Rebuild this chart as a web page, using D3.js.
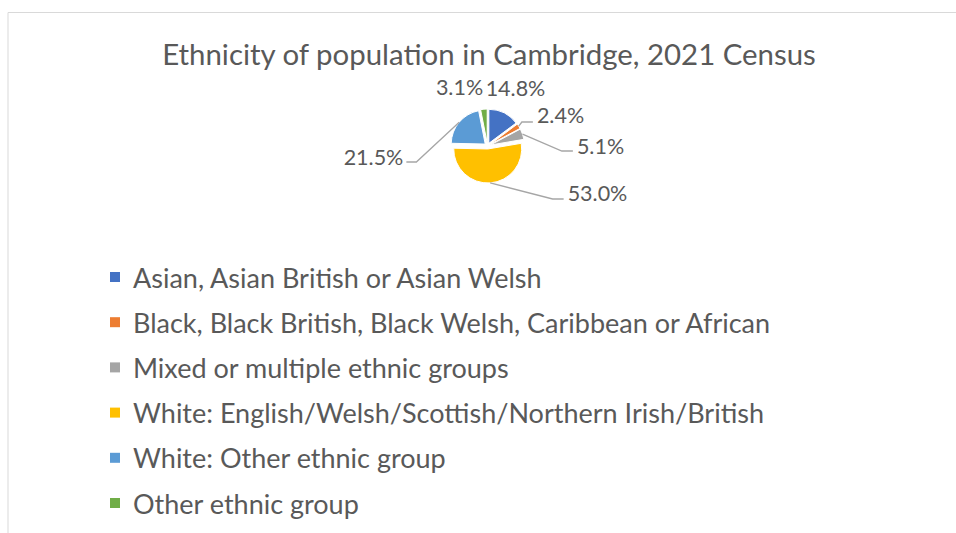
<!DOCTYPE html>
<html>
<head>
<meta charset="utf-8">
<script src="https://cdn.jsdelivr.net/npm/d3@7"></script>
<style>
  body { margin: 0; background: #fff; }
  svg text { font-family: Lato, "Liberation Sans", sans-serif; fill: #595959; }
</style>
</head>
<body>
<svg id="svg"></svg>
<script>
const width = 956;
const height = 533;

// data
const categories = [
  "Asian, Asian British or Asian Welsh",
  "Black, Black British, Black Welsh, Caribbean or African",
  "Mixed or multiple ethnic groups",
  "White: English/Welsh/Scottish/Northern Irish/British",
  "White: Other ethnic group",
  "Other ethnic group"
];
const shares = [14.8, 2.4, 5.1, 53.0, 21.5, 3.1];
const colours = ["#4472C4", "#ED7D31", "#A5A5A5", "#FFC000", "#5B9BD5", "#70AD47"];

// label placement (offset from pie centre), leader line yes/no
const labelPos = [
  {dx: 28, dy: -58, leader: false},
  {dx: 73, dy: -31, leader: true, side: "right", ly: 7},
  {dx: 113, dy: 0, leader: true, side: "right", ly: 5},
  {dx: 110, dy: 47, leader: true, side: "right", ly: 6},
  {dx: -114, dy: 11, leader: true, side: "left", ly: 5},
  {dx: -28, dy: -59, leader: false}
];

let svg = d3.select("#svg").attr("width", width).attr("height", height);

// chart frame
svg.append("path")
  .attr("d", "M8," + height + "V12.5H" + width)
  .attr("fill", "none")
  .attr("stroke", "#d9d9d9")
  .attr("stroke-width", 1);

svg.append("text")
  .attr("x", 489)
  .attr("y", 53)
  .attr("text-anchor", "middle")
  .attr("dominant-baseline", "central")
  .style("font-size", "29.4px")
  .text("Ethnicity of population in Cambridge, 2021 Census");

const cx = 487.5, cy = 146;
const r = 34, explode = 3;

let pie = d3.pie().sort(null).value(d => d);
let arcs = pie(shares);
let arc = d3.arc().innerRadius(0).outerRadius(r);

let g = svg.append("g").attr("transform", `translate(${cx},${cy})`);

const mid = d => (d.startAngle + d.endAngle) / 2;

g.selectAll("path.slice")
  .data(arcs)
  .enter()
  .append("path")
    .attr("class", "slice")
    .attr("d", arc)
    .attr("fill", (d, i) => colours[i])
    .attr("stroke", "#fff")
    .attr("stroke-width", 1)
    .attr("transform", d => `translate(${explode * Math.sin(mid(d))},${-explode * Math.cos(mid(d))})`);

let lineG = g.append("g");

let labels = g.selectAll("text.lbl")
  .data(arcs)
  .enter()
  .append("text")
    .attr("class", "lbl")
    .attr("x", (d, i) => labelPos[i].dx)
    .attr("y", (d, i) => labelPos[i].dy)
    .attr("text-anchor", "middle")
    .attr("dominant-baseline", "central")
    .style("font-size", "21.5px")
    .text(d => d3.format(".1f")(d.data) + "%");

// leader lines, ending just beside each label
labels.each(function(d, i) {
  let lp = labelPos[i];
  if (!lp.leader) return;
  let box = this.getBBox();
  let a = mid(d);
  let sx = (r + explode) * Math.sin(a), sy = -(r + explode) * Math.cos(a);
  let y = lp.dy + lp.ly;
  let pts;
  if (lp.side === "right") {
    let ex = box.x - 4;
    pts = [[sx, sy], [ex - 11, y], [ex, y]];
  } else {
    let ex = box.x + box.width + 3;
    pts = [[sx, sy], [ex + 10, y], [ex, y]];
  }
  lineG.append("path")
    .attr("d", d3.line()(pts))
    .attr("fill", "none")
    .attr("stroke", "#a6a6a6")
    .attr("stroke-width", 1.3);
});

// legend
let legend = svg.append("g").attr("transform", "translate(110,277)");
let item = legend.selectAll("g")
  .data(categories)
  .enter()
  .append("g")
    .attr("transform", (d, i) => `translate(0,${i * 45.2})`);

item.append("rect")
  .attr("x", 0).attr("y", -5)
  .attr("width", 10).attr("height", 10)
  .attr("fill", (d, i) => colours[i]);

item.append("text")
  .attr("x", 23)
  .attr("y", 0)
  .attr("dominant-baseline", "central")
  .style("font-size", "27px")
  .text(d => d);
</script>
</body>
</html>
